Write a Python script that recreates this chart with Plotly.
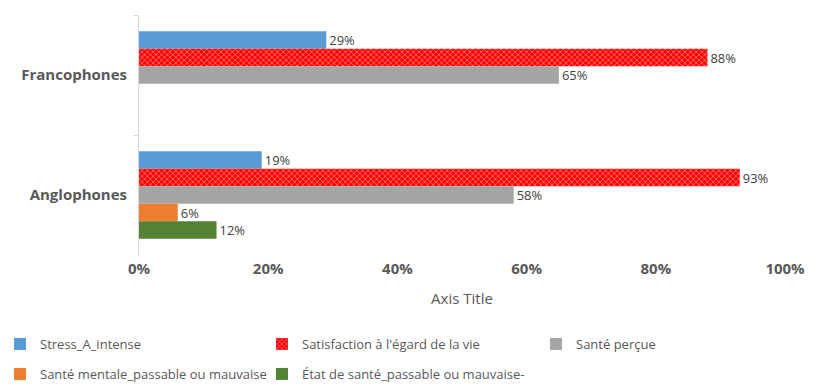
import plotly.graph_objects as go

categories = ["Francophones", "Anglophones"]
stress = [0.29, 0.19]
satisfaction = [0.88, 0.93]
sante_percue = [0.65, 0.58]
sante_mentale = [None, 0.06]
etat_sante = [None, 0.12]

series = [
    ("Stress_A_intense", stress, "#5B9BD5", False),
    ("Satisfaction à l'égard de la vie", satisfaction, "#FF0000", True),
    ("Santé perçue", sante_percue, "#A5A5A5", False),
    ("Santé mentale_passable ou mauvaise", sante_mentale, "#ED7D31", False),
    ("État de santé_passable ou mauvaise-", etat_sante, "#548235", False),
]
# legend placement (container pixels): one legend per entry
legend_pos = [(0, 344), (262, 344), (536, 344), (0, 374), (262, 374)]

FONT = "Open Sans, Calibri, Arial, sans-serif"
W, H = 829, 392
fig = go.Figure()
layout_legends = {}
for i, (name, vals, color, patterned) in enumerate(series):
    marker = dict(color=color, line=dict(width=0))
    if patterned:
        marker["pattern"] = dict(shape="x", fgcolor="white", size=4, solidity=0.35, fillmode="overlay")
    key = "legend" if i == 0 else f"legend{i+1}"
    fig.add_trace(go.Bar(
        name=name, y=categories, x=vals, orientation="h", marker=marker,
        text=[f"{round(v*100)}%" if v is not None else "" for v in vals],
        textposition="outside", cliponaxis=False,
        textfont=dict(family=FONT, size=14, color="#404040"),
        hoverinfo="skip", legend=key,
    ))
    px, py = legend_pos[i]
    layout_legends[key] = dict(
        orientation="h", xref="container", yref="container",
        x=px / W, y=1 - py / H, xanchor="left", yanchor="middle",
        font=dict(family=FONT, size=13, color="#595959"), itemwidth=30,
        bgcolor="rgba(0,0,0,0)")

fig.update_layout(
    width=W, height=H,
    margin=dict(l=139, r=44, t=15, b=137, autoexpand=False),
    paper_bgcolor="white", plot_bgcolor="white",
    barmode="group", bargap=0.27, bargroupgap=0,
    font=dict(family=FONT, color="#595959"),
    xaxis=dict(range=[0, 1], tickvals=[0, 0.2, 0.4, 0.6, 0.8, 1.0], tickformat=".0%",
               showgrid=False, zeroline=False, showline=False, automargin=False,
               tickfont=dict(family=FONT, size=15, color="#595959", weight="bold"),
               ticks="", ticklabelstandoff=3,
               title=dict(text="Axis Title", font=dict(family=FONT, size=15, color="#595959"), standoff=16)),
    yaxis=dict(autorange="reversed", showgrid=False, zeroline=False, automargin=False,
               showline=True, linecolor="#D9D9D9", linewidth=1,
               ticks="outside", ticklen=5, tickcolor="#D9D9D9", tickson="boundaries",
               tickfont=dict(family=FONT, size=15, color="#595959", weight="bold"),
               ticklabelstandoff=8),
    showlegend=True,
    **layout_legends,
)

fig.write_html("out.html", config={"displayModeBar": False},
               post_script="document.body.style.margin='0';")
